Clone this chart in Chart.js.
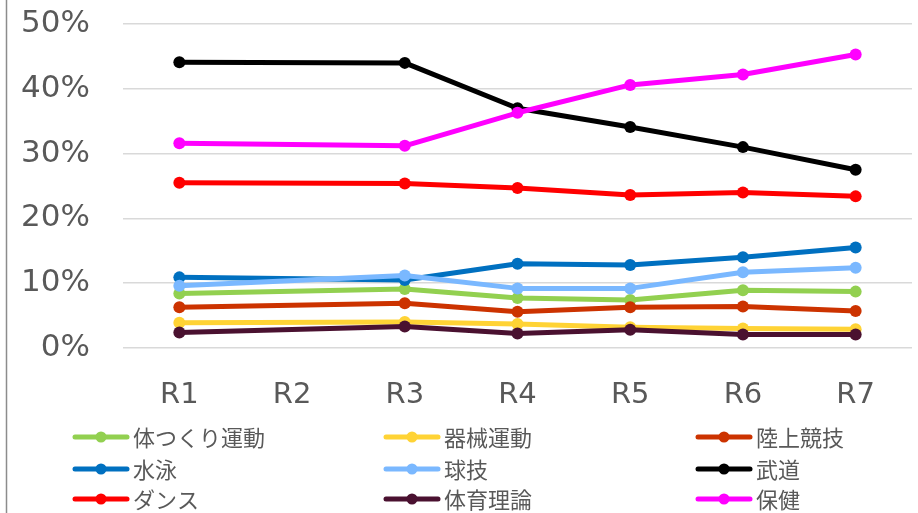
<!DOCTYPE html>
<html><head><meta charset="utf-8">
<script src="https://cdn.jsdelivr.net/npm/chart.js@4"></script>
<style>html,body{margin:0;padding:0;background:#fff;} #wrap{width:918px;height:513px;position:relative}</style>
</head><body><div id="wrap"><canvas id="c" width="918" height="513"></canvas></div>
<script>
const categories = ['R1','R2','R3','R4','R5','R6','R7'];
const yTickValues = [0,10,20,30,40,50];
const seriesNames = ['体つくり運動','器械運動','陸上競技','水泳','球技','武道','ダンス','体育理論','保健'];
const seriesColors = ['#92D050','#FFD335','#CC3300','#0070C0','#7AB8FF','#000000','#FF0000','#4A1130','#FF00FF'];
const taiTsukuri = [8.4, null, 9.1, 7.7, 7.4, 8.9, 8.7];
const kikai      = [3.9, null, 4.0, 3.7, 3.2, 3.0, 2.9];
const rikujo     = [6.3, null, 6.9, 5.6, 6.3, 6.4, 5.7];
const suiei      = [10.9, null, 10.5, 13.0, 12.8, 14.0, 15.5];
const kyugi      = [9.6, null, 11.2, 9.2, 9.2, 11.7, 12.4];
const budo       = [44.1, null, 44.0, 37.0, 34.1, 31.0, 27.5];
const dance      = [25.5, null, 25.4, 24.7, 23.6, 24.0, 23.4];
const riron      = [2.4, null, 3.3, 2.25, 2.8, 2.1, 2.1];
const hoken      = [31.6, null, 31.2, 36.3, 40.6, 42.2, 45.3];
const seriesValues = [taiTsukuri, kikai, rikujo, suiei, kyugi, budo, dance, riron, hoken];

const datasets = seriesNames.map((name, i) => ({
  label: name,
  data: seriesValues[i],
  borderColor: seriesColors[i],
  backgroundColor: seriesColors[i],
  pointBackgroundColor: seriesColors[i],
  pointBorderColor: seriesColors[i],
  pointBorderWidth: 0,
  pointRadius: 6,
  borderWidth: 5,
  borderCapStyle: 'round',
  borderJoinStyle: 'round',
  spanGaps: true,
  tension: 0,
  order: seriesNames.length - i
}));

const framePlugin = {
  id: 'frameAndLegend',
  beforeDraw(chart) {
    const ctx = chart.ctx;
    ctx.save();
    ctx.fillStyle = '#ffffff';
    ctx.fillRect(0, 0, chart.width, chart.height);
    ctx.strokeStyle = '#8c8c8c';
    ctx.lineWidth = 1.5;
    ctx.beginPath();
    ctx.moveTo(6.5, 0);
    ctx.lineTo(6.5, chart.height);
    ctx.stroke();
    ctx.restore();
  },
  afterDraw(chart) {
    const ctx = chart.ctx;
    const colX = [73, 384, 696];
    const rowY = [437, 469, 499];
    ctx.save();
    ctx.font = '22px "Noto Sans CJK JP"';
    ctx.textBaseline = 'middle';
    ctx.textAlign = 'left';
    chart.data.datasets.forEach((ds, i) => {
      const x = colX[i % 3];
      const y = rowY[Math.floor(i / 3)];
      ctx.strokeStyle = ds.borderColor;
      ctx.lineWidth = 5;
      ctx.lineCap = 'round';
      ctx.beginPath();
      ctx.moveTo(x + 2, y);
      ctx.lineTo(x + 54, y);
      ctx.stroke();
      ctx.fillStyle = ds.borderColor;
      ctx.beginPath();
      ctx.arc(x + 28, y, 5.5, 0, Math.PI * 2);
      ctx.fill();
      ctx.fillStyle = '#595959';
      ctx.fillText(ds.label, x + 60, y + 1);
    });
    ctx.restore();
  }
};

new Chart(document.getElementById('c'), {
  type: 'line',
  data: { labels: categories, datasets },
  options: {
    responsive: false,
    animation: false,
    devicePixelRatio: 1,
    layout: { padding: { top: 0, bottom: 95, left: 0, right: 0 } },
    plugins: { legend: { display: false }, tooltip: { enabled: false } },
    scales: {
      x: {
        offset: true,
        grid: { display: false, drawTicks: false },
        border: { display: false },
        ticks: { color: '#595959', font: { family: 'DejaVu Sans', size: 29 }, padding: 30, maxRotation: 0 },
        afterFit(s) { s.height = 70; }
      },
      y: {
        min: 0, max: 50,
        afterBuildTicks(s) { s.ticks = yTickValues.map(v => ({ value: v })); },
        grid: { color: '#D9D9D9', lineWidth: 1.5, drawTicks: false },
        border: { display: false },
        ticks: { color: '#595959', font: { family: 'DejaVu Sans', size: 31 }, padding: 33, callback: v => v + '%' },
        afterFit(s) { s.width = 123; s.paddingTop = 24; s.paddingBottom = 0; }
      }
    }
  },
  plugins: [framePlugin]
});
</script></body></html>
